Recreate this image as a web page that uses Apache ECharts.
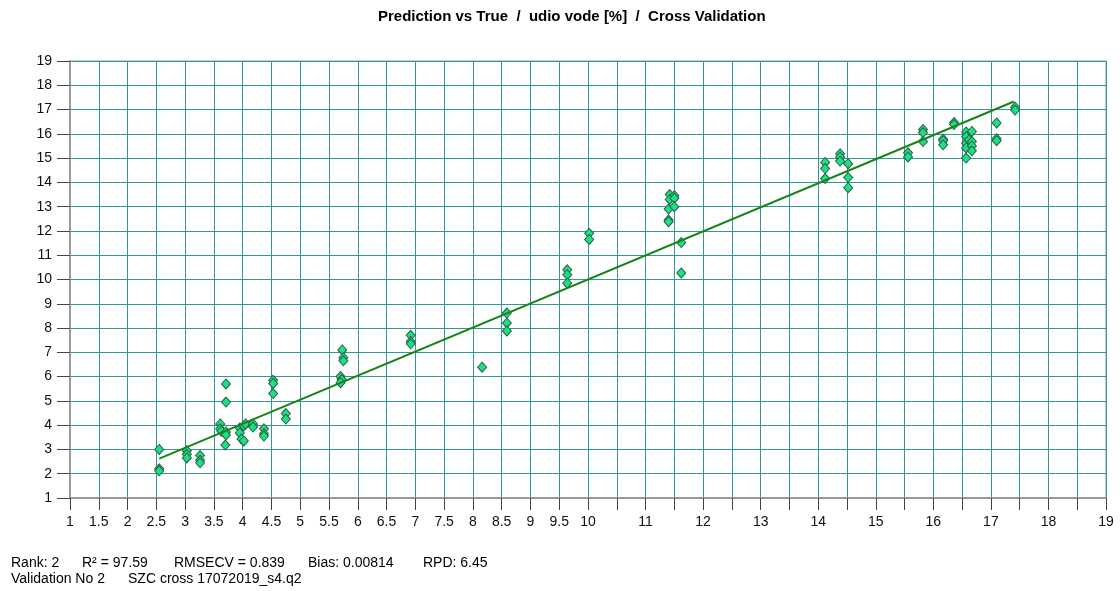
<!DOCTYPE html>
<html>
<head>
<meta charset="utf-8">
<script src="https://cdn.jsdelivr.net/npm/echarts@6/dist/echarts.min.js"></script>
<style>
  html, body { margin: 0; padding: 0; background: #ffffff; }
  #chart { width: 1120px; height: 591px; }
</style>
</head>
<body>
<div id="chart"></div>
<script>
// Reference (true) values of each sample, in %
const trueValues = [
  2.55, 2.55, 2.55, 3.03, 3.03, 3.03, 3.26, 3.26, 3.26,
  3.61, 3.61, 3.63, 3.71, 3.71, 3.71, 3.71, 3.70,
  3.95, 3.95, 3.98, 4.02, 4.02, 4.05, 4.18, 4.18,
  4.37, 4.37, 4.37, 4.53, 4.53, 4.53, 4.75, 4.75,
  5.73, 5.75, 5.75, 5.70, 5.72, 5.70,
  6.92, 6.92, 6.92, 8.16, 8.59, 8.59, 8.59,
  9.64, 9.64, 9.64, 10.02, 10.02,
  11.42, 11.42, 11.40, 11.40, 11.40, 11.50, 11.50, 11.50, 11.62, 11.62,
  14.12, 14.12, 14.12, 14.38, 14.38, 14.38, 14.52, 14.52, 14.52,
  15.56, 15.56, 15.82, 15.82, 15.82, 16.17, 16.17, 16.17, 16.36, 16.36,
  16.57, 16.57, 16.57, 16.57, 16.57, 16.62, 16.67, 16.67, 16.67, 16.67,
  17.10, 17.10, 17.10, 17.42, 17.42
];

// Cross-validated predictions for the same samples, in %
const predictedValues = [
  3.00, 2.20, 2.12, 2.95, 2.80, 2.65, 2.75, 2.55, 2.45,
  4.05, 3.85, 3.75, 5.70, 4.95, 3.72, 3.60, 3.18,
  3.88, 3.68, 3.43, 3.35, 3.97, 4.05, 4.05, 3.92,
  3.85, 3.65, 3.55, 5.85, 5.72, 5.30, 4.48, 4.25,
  7.10, 6.78, 6.65, 6.00, 5.88, 5.75,
  7.70, 7.45, 7.35, 6.39, 8.62, 8.21, 7.88,
  10.40, 10.20, 9.85, 11.90, 11.65,
  13.50, 13.30, 12.90, 12.45, 12.38, 13.45, 13.35, 13.00, 11.52, 10.27,
  14.82, 14.57, 14.16, 15.18, 15.05, 14.88, 14.77, 14.20, 13.78,
  15.22, 15.05, 16.18, 16.05, 15.68, 15.78, 15.72, 15.55, 16.47, 16.38,
  16.08, 15.88, 15.62, 15.42, 15.00, 15.75, 16.10, 15.68, 15.50, 15.30,
  16.45, 15.80, 15.72, 17.10, 16.98
];

// Fitted regression line end points [true, predicted]
const fitStart = [2.55, 2.62];
const fitEnd = [17.40, 17.33];

// Statistics shown under the plot
const statsLine1 = [
  { text: 'Rank: 2', x: 11 },
  { text: 'R\u00B2 = 97.59', x: 82 },
  { text: 'RMSECV = 0.839', x: 174 },
  { text: 'Bias: 0.00814', x: 308 },
  { text: 'RPD: 6.45', x: 423 }
];
const statsLine2 = [
  { text: 'Validation No 2', x: 11 },
  { text: 'SZC cross 17072019_s4.q2', x: 128 }
];

const titleText = 'Prediction vs True  /  udio vode [%]  /  Cross Validation';

const points = trueValues.map((t, i) => [t, predictedValues[i]]);

const FONT = '"Liberation Sans", Arial, sans-serif';
const gridColor = '#2f9898';
const axisGrey = '#9a9a9a';

const chart = echarts.init(document.getElementById('chart'), null, { renderer: 'canvas' });

const graphics = [];
statsLine1.forEach(s => graphics.push({
  type: 'text', left: s.x, top: 556,
  style: { text: s.text, font: '14px ' + FONT, fill: '#000' }
}));
statsLine2.forEach(s => graphics.push({
  type: 'text', left: s.x, top: 572,
  style: { text: s.text, font: '14px ' + FONT, fill: '#000' }
}));

chart.setOption({
  animation: false,
  backgroundColor: '#ffffff',
  title: {
    text: titleText,
    left: 373,
    top: 4,
    textStyle: { fontFamily: FONT, fontSize: 15, fontWeight: 'bold', color: '#000' }
  },
  grid: {
    left: 70, right: 14, top: 61, bottom: 93,
    show: true, borderColor: axisGrey, borderWidth: 1, backgroundColor: 'transparent'
  },
  xAxis: {
    type: 'value',
    min: 1, max: 19, interval: 0.5,
    axisLine: { show: true, onZero: false, lineStyle: { color: axisGrey, width: 2 } },
    axisTick: { show: true, length: 12, lineStyle: { color: '#444', width: 1 } },
    axisLabel: {
      margin: 17,
      fontFamily: FONT, fontSize: 14, color: '#111',
      formatter: v => (v > 10 && Math.round(v) !== v) ? '' : String(v)
    },
    splitLine: { show: true, lineStyle: { color: gridColor, width: 1 } }
  },
  yAxis: {
    type: 'value',
    min: 1, max: 19, interval: 1,
    axisLine: { show: true, onZero: false, lineStyle: { color: axisGrey, width: 2 } },
    axisTick: { show: true, length: 13, lineStyle: { color: '#444', width: 1 } },
    axisLabel: { margin: 18, fontFamily: FONT, fontSize: 14, color: '#111' },
    splitLine: { show: true, lineStyle: { color: gridColor, width: 1 } }
  },
  series: [
    {
      type: 'scatter',
      data: points,
      symbol: 'diamond',
      symbolSize: [9, 10],
      itemStyle: { color: '#18e283', borderColor: '#2e5e48', borderWidth: 1, opacity: 1 },
      z: 3
    },
    {
      type: 'line',
      data: [fitStart, fitEnd],
      symbol: 'none',
      lineStyle: { color: '#158515', width: 2 },
      z: 4
    }
  ],
  graphic: graphics
});
</script>
</body>
</html>
